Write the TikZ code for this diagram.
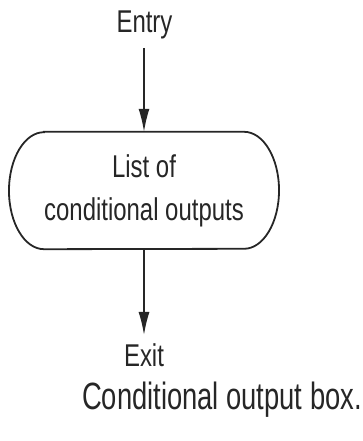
\documentclass[tikz,border=0pt]{standalone}
\usepackage{fontspec}
\setmainfont{Liberation Sans}[FakeStretch=0.76]
\newfontfamily\capfont{Liberation Sans}[FakeStretch=0.72]
\usetikzlibrary{arrows.meta}
\tikzset{
  lbl/.style={inner sep=0pt, anchor=base, text=black!85, font=\fontsize{31.5}{43}\selectfont},
  captext/.style={inner sep=0pt, anchor=base, text=black!85, font=\capfont\fontsize{38}{46}\selectfont},
  stadium/.style={minimum width=188pt, minimum height=117pt, inner sep=0pt, align=center, text=black!85,
    font=\fontsize{31.5}{43}\selectfont},
  outline/.style={draw=black!85, line width=1.8pt},
  flow/.style={draw=black!85, line width=1.5pt, -{Latex[length=23pt,width=11pt]}}
}
\begin{document}
\begin{tikzpicture}[x=1pt,y=1pt]
\useasboundingbox (0,0) rectangle (362,441);
\node[lbl] (entry) at (144.5,408) {Entry};
\node[stadium] (box) at (144,250.5) {List of\\conditional outputs};
\draw[outline] (box.north west) -- (box.north east)
  arc[start angle=90, end angle=-90, x radius=35, y radius=58.5]
  -- (box.south west)
  arc[start angle=270, end angle=90, x radius=35, y radius=58.5] -- cycle;
\node[lbl] (exit) at (144,74) {Exit};
\node[captext] (caption) at (222,31) {Conditional output box.};
\coordinate (entryend) at (144,393);
\coordinate (exitend) at (144,106);
\draw[flow] (entryend) -- (box.north);
\draw[flow] (box.south) -- (exitend);
\end{tikzpicture}
\end{document}
